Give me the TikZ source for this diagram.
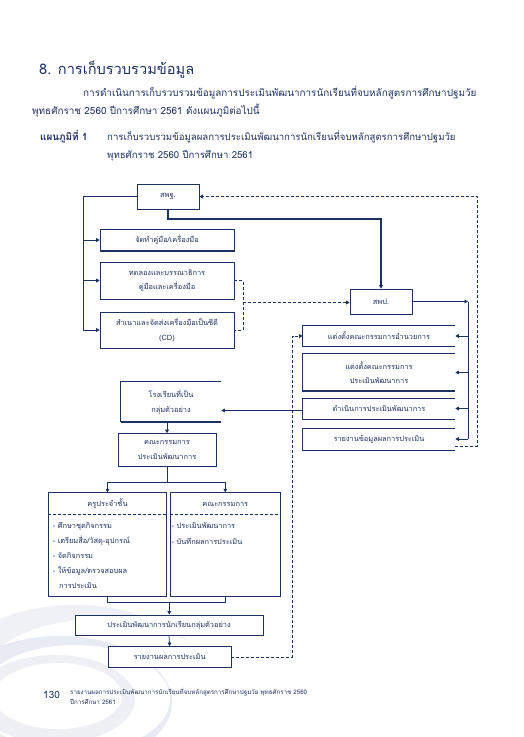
\documentclass[tikz,border=0pt]{standalone}
\usepackage{fontspec}
\setmainfont[Script=Thai]{Loma}
\usetikzlibrary{arrows.meta}
\definecolor{navy}{RGB}{28,50,96}
\definecolor{txt}{RGB}{30,50,100}
\definecolor{lav}{RGB}{200,204,226}
\begin{document}
\begin{tikzpicture}[x=1pt,y=-1pt,
  every node/.style={text=txt},
  box/.style={draw=navy, line width=0.7pt, fill=white, align=center, inner sep=0pt, font=\fontsize{7.4}{14.5}\selectfont},
  obox/.style={box, draw=none},
  ln/.style={draw=navy, line width=0.7pt},
  thk/.style={draw=navy, line width=1.8pt},
  dsh/.style={ln, dash pattern=on 3pt off 2pt},
  arr/.style={-{Triangle[length=3.5pt,width=3.8pt]}},
  item/.style={anchor=west, inner sep=0pt, font=\fontsize{7.4}{9}\selectfont},
  para/.style={anchor=base west, inner sep=0pt, font=\fontsize{9.9}{12}\selectfont}
]
\useasboundingbox (0,0) rectangle (524,737);
\fill[white] (0,0) rectangle (524,737);
% decorative swirl
\begin{scope}
\clip (0,600) rectangle (225,737);
\fill[lav!28] (75,705) ellipse [x radius=148, y radius=100];
\fill[white] (98,703) ellipse [x radius=132, y radius=84];
\fill[lav!40] (60,702) ellipse [x radius=112, y radius=66];
\fill[white] (74,699) ellipse [x radius=96, y radius=54];
\fill[lav!30] (55,699) ellipse [x radius=80, y radius=44];
\fill[white] (58,696) ellipse [x radius=64, y radius=33];
\end{scope}

% header
\node[anchor=west, inner sep=0pt, font=\fontsize{14.6}{18}\selectfont] (title) at (39,70) {8. การเก็บรวบรวมข้อมูล};
\node[para] (p1) at (83,96) {การดำเนินการเก็บรวบรวมข้อมูลการประเมินพัฒนาการนักเรียนที่จบหลักสูตรการศึกษาปฐมวัย};
\node[para] (p2) at (32,114) {พุทธศักราช 2560 ปีการศึกษา 2561 ดังแผนภูมิต่อไปนี้};
\node[para, font=\fontsize{9.9}{12}\selectfont\bfseries] (cap) at (40,140) {แผนภูมิที่ 1};
\node[para, font=\fontsize{9.6}{12}\selectfont] (c1) at (107,140) {การเก็บรวบรวมข้อมูลผลการประเมินพัฒนาการนักเรียนที่จบหลักสูตรการศึกษาปฐมวัย};
\node[para, font=\fontsize{9.6}{12}\selectfont] (c2) at (107,158) {พุทธศักราช 2560 ปีการศึกษา 2561};

% left column
\node[box, minimum width=62pt, minimum height=25pt] (sphf) at (168,196.5) {สพฐ.};
\node[box, minimum width=134pt, minimum height=22pt] (b1) at (167,240) {จัดทำคู่มือ/เครื่องมือ};
\node[box, minimum width=134pt, minimum height=37pt] (b2) at (167,280.5) {ทดลองและบรรณาธิการ\\คู่มือและเครื่องมือ};
\node[box, minimum width=134pt, minimum height=36pt] (b3) at (167,330) {สำเนาและจัดส่งเครื่องมือเป็นซีดี\\(CD)};
\draw[thk] (b1.south west) -- (b1.south east);

% right column
\node[box, minimum width=62pt, minimum height=25pt] (spp) at (381,301.5) {สพป.};
\node[obox, minimum width=152pt, minimum height=20.5pt] (rA) at (379,336) {แต่งตั้งคณะกรรมการอำนวยการ};
\node[obox, minimum width=152pt, minimum height=37pt] (rB) at (379,372.5) {แต่งตั้งคณะกรรมการ\\ประเมินพัฒนาการ};
\node[obox, minimum width=152pt, minimum height=20.5pt] (rC) at (379,408.5) {ดำเนินการประเมินพัฒนาการ};
\node[obox, minimum width=152pt, minimum height=21.5pt] (rD) at (379,439) {รายงานข้อมูลผลการประเมิน};
\foreach \n in {rA,rB,rC,rD}
  \draw[ln] (\n.north east) -- (\n.north west) -- (\n.south west) -- (\n.south east);
\draw[thk] (rB.south west) -- (rB.south east);

% school branch
\node[obox, minimum width=100pt, minimum height=40pt] (school) at (171,402) {โรงเรียนที่เป็น\\กลุ่มตัวอย่าง};
\draw[ln] (school.north east) -- (school.north west) -- (school.south west);
\draw[thk] (school.south west) -- (school.south east);
\node[box, minimum width=98pt, minimum height=33pt] (comm) at (167,450) {คณะกรรมการ\\ประเมินพัฒนาการ};

% two detail boxes
\node[box, minimum width=118.4pt, minimum height=103.3pt] (teacher) at (107.5,544.3) {};
\node[box, minimum width=110.7pt, minimum height=103.3pt] (cmt) at (225.3,544.3) {};
\draw[dsh] ([yshift=-22pt]teacher.north west) -- ([yshift=-22pt]teacher.north east);
\draw[dsh] ([yshift=-22pt]cmt.north west) -- ([yshift=-22pt]cmt.north east);
\node[item, anchor=center] (tt) at (107.5,504) {ครูประจำชั้น};
\node[item, anchor=center] (ct) at (225.3,504) {คณะกรรมการ};
\node[item] (t1) at (52.7,526) {- ศึกษาชุดกิจกรรม};
\node[item] (t2) at (52.7,541) {- เตรียมสื่อ/วัสดุ-อุปกรณ์};
\node[item] (t3) at (52.7,556) {- จัดกิจกรรม};
\node[item] (t4) at (52.7,570.7) {- ให้ข้อมูล/ตรวจสอบผล};
\node[item] (t5) at (59,586) {การประเมิน};
\node[item] (k1) at (171.5,526) {- ประเมินพัฒนาการ};
\node[item] (k2) at (171.5,541) {- บันทึกผลการประเมิน};

\node[box, minimum width=187.7pt, minimum height=20.3pt] (evalall) at (169,625) {ประเมินพัฒนาการนักเรียนกลุ่มตัวอย่าง};
\node[box, minimum width=122.7pt, minimum height=21pt] (report) at (169.7,657) {รายงานผลการประเมิน};

% connectors: left column
\coordinate (lx) at (83,330);
\draw[ln] (sphf.west) -| (lx);
\draw[ln,arr] (b1.west -| lx) -- (b1.west);
\draw[ln,arr] (b2.west -| lx) -- (b2.west);
\draw[ln,arr] (lx) -- (b3.west);
% thick sphf -> spp
\coordinate (tk) at (381,218.7);
\draw[thk,arr] (sphf.south) |- (tk) -- (spp.north);
% dashed bracket to spp
\coordinate (br) at (243,302.5);
\draw[dsh] (b2.east) -| (br) |- (b3.east);
\draw[dsh,arr] (br) -- (br -| spp.west);
% dashed feedback to sphf
\coordinate (fx) at (477,446.5);
\draw[dsh,arr] (fx -| rD.east) -- (fx) |- (sphf.east);
% spp to right boxes
\coordinate (rx) at (468,301.5);
\draw[ln,arr] (spp.east) -- (rx);
\draw[ln] (rx) -- (rx |- rD.east);
\draw[ln,arr] (rx |- rA.east) -- (rA.east);
\draw[ln,arr] (rx |- rB.east) -- (rB.east);
\draw[ln,arr] (rx |- rC.east) -- (rC.east);
\draw[ln,arr] (rx |- rD.east) -- (rD.east);
% dashed from report to rA
\coordinate (dx) at (292.5,336);
\draw[dsh,arr] (report.east) -| (dx) -- (rA.west);
% rC to school
\draw[ln,arr] ([yshift=-2pt]rC.west) -- ([yshift=-2pt]rC.west -| school.east);
\draw[ln,arr] (comm.north |- school.south) -- (comm.north);
% comm to detail boxes
\coordinate (sp) at (167,482);
\draw[ln] (comm.south) -- (sp);
\draw[ln,arr] (sp) -| (teacher.north);
\draw[ln,arr] (sp) -| (cmt.north);
\coordinate (jn) at (169.3,602.7);
\draw[ln] (teacher.south) |- (jn) -| (cmt.south);
\draw[ln,arr] (jn) -- (evalall.north -| jn);
\draw[ln,arr] (evalall.south) -- (report.north);

% footer
\node[anchor=west, inner sep=0pt, font=\fontsize{10}{12}\selectfont] (pg) at (43,695) {130};
\node[anchor=west, inner sep=0pt, font=\fontsize{6.2}{7}\selectfont] (f1) at (70,692) {รายงานผลการประเมินพัฒนาการนักเรียนที่จบหลักสูตรการศึกษาปฐมวัย พุทธศักราช 2560};
\node[anchor=west, inner sep=0pt, font=\fontsize{6.2}{7}\selectfont] (f2) at (70,702) {ปีการศึกษา 2561};
\end{tikzpicture}
\end{document}
